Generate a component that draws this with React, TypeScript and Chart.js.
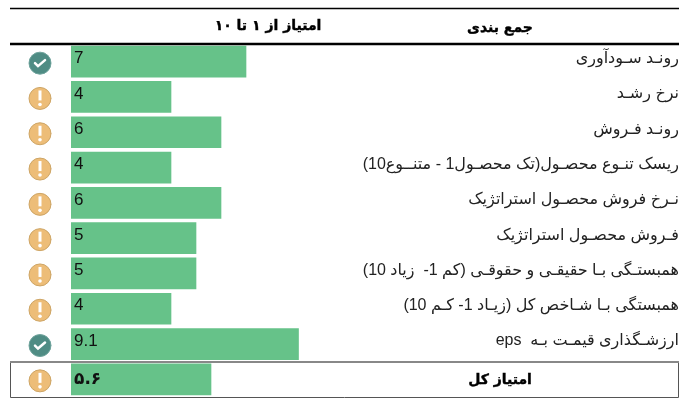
import React, { useEffect, useRef } from "react";
import { Chart, registerables } from "chart.js";

Chart.register(...registerables);

const categories = [
  "رونـد سـودآوری",
  "نرخ رشـد",
  "رونـد فـروش",
  "ریسک تنـوع محصـول(تک محصـول1 - متنــوع10)",
  "نـرخ فروش محصـول استراتژیک",
  "فـروش محصـول استراتژیک",
  "همبستـگی بـا حقیقـی و حقوقـی (کم 1-  زیاد 10)",
  "همبستگی بـا شـاخص کل (زیـاد 1- کـم 10)",
  "ارزشـگذاری قیمـت بـه  eps",
  "امتیاز کل",
];
const scores = [7, 4, 6, 4, 6, 5, 5, 4, 9.1, 5.6];
const scoreLabels = ["7", "4", "6", "4", "6", "5", "5", "4", "9.1", "۵.۶"];
const statuses = ["ok", "warn", "warn", "warn", "warn", "warn", "warn", "warn", "ok", "warn"];
const headerScore = "امتیاز از ۱ تا ۱۰";
const headerCategory = "جمع بندی";

const BASE_FONT = '"Liberation Sans", "DejaVu Sans", sans-serif';
const BAR_COLOR = "#66C289";

const overlay = {
  id: "tableOverlay",
  afterDatasetsDraw(chart: any) {
    const { ctx, scales } = chart;
    const xs = scales.x;
    const ys = scales.y;
    const last = categories.length - 1;
    ctx.save();

    // rules
    ctx.strokeStyle = "#000";
    ctx.lineWidth = 1.5;
    ctx.beginPath();
    ctx.moveTo(10, 8.5);
    ctx.lineTo(679, 8.5);
    ctx.stroke();
    ctx.lineWidth = 2.5;
    ctx.beginPath();
    ctx.moveTo(10, 44);
    ctx.lineTo(679, 44);
    ctx.stroke();

    // total row box
    ctx.strokeStyle = "#555";
    ctx.lineWidth = 1;
    ctx.beginPath();
    ctx.moveTo(10.5, 362);
    ctx.lineTo(10.5, 397.5);
    ctx.lineTo(678.5, 397.5);
    ctx.lineTo(678.5, 362);
    ctx.stroke();
    ctx.strokeStyle = "#888";
    ctx.lineWidth = 2;
    ctx.beginPath();
    ctx.moveTo(10, 362);
    ctx.lineTo(679, 362);
    ctx.stroke();

    // headers
    ctx.fillStyle = "#000";
    ctx.strokeStyle = "#000";
    ctx.lineWidth = 0.4;
    ctx.textAlign = "center";
    ctx.textBaseline = "middle";
    ctx.font = 'bold 14px "DejaVu Sans", sans-serif';
    const bold: [string, number, number][] = [
      [headerScore, 268, 26],
      [headerCategory, 500, 28],
      [categories[last], 500, ys.getPixelForValue(last) + 1],
    ];
    bold.forEach(([t, x, y]) => {
      ctx.fillText(t, x, y);
      ctx.strokeText(t, x, y);
    });

    scores.forEach((_v, i) => {
      const y = ys.getPixelForValue(i);
      // value text
      ctx.fillStyle = "#111";
      ctx.textAlign = "left";
      ctx.textBaseline = "middle";
      ctx.font = i === last ? 'bold 17px "DejaVu Sans", sans-serif' : `17px ${BASE_FONT}`;
      ctx.fillText(scoreLabels[i], xs.getPixelForValue(0) + 3, i === last ? y : y - 3);

      // status icon
      const cx = 40;
      const cy = y + 1.5;
      const ok = statuses[i] === "ok";
      ctx.beginPath();
      ctx.arc(cx, cy, 11, 0, Math.PI * 2);
      ctx.fillStyle = ok ? "#4F8C84" : "#EDBD78";
      ctx.fill();
      ctx.lineWidth = 1;
      ctx.strokeStyle = ok ? "#6FA39C" : "#CDA566";
      ctx.stroke();
      ctx.strokeStyle = "#fff";
      ctx.fillStyle = "#fff";
      if (ok) {
        ctx.lineWidth = 2.5;
        ctx.lineCap = "round";
        ctx.beginPath();
        ctx.moveTo(cx - 5, cy);
        ctx.lineTo(cx - 2, cy + 3);
        ctx.lineTo(cx + 5, cy - 3);
        ctx.stroke();
      } else {
        ctx.fillRect(cx - 1.5, cy - 8, 3, 10);
        ctx.beginPath();
        ctx.arc(cx, cy + 6, 1.8, 0, Math.PI * 2);
        ctx.fill();
      }
    });
    ctx.restore();
  },
};

export default function App() {
  const ref = useRef<HTMLCanvasElement>(null);
  useEffect(() => {
    const chart = new Chart(ref.current as HTMLCanvasElement, {
      type: "bar",
      data: {
        labels: categories,
        datasets: [
          {
            data: scores,
            backgroundColor: BAR_COLOR,
            borderWidth: 0,
            barThickness: 31,
          },
        ],
      },
      options: {
        indexAxis: "y",
        responsive: false,
        animation: false,
        layout: { padding: { left: 71, right: 21, top: 44, bottom: 3 } },
        plugins: { legend: { display: false }, tooltip: { enabled: false } },
        scales: {
          x: { display: false, min: 0, max: 10 },
          y: {
            position: "right",
            grid: { display: false },
            border: { display: false },
            afterFit(scale: any) {
              scale.width = 358;
              scale.paddingTop = 0;
              scale.paddingBottom = 0;
            },
            ticks: {
              autoSkip: false,
              crossAlign: "far",
              color: "#222",
              labelOffset: -3,
              font: { family: BASE_FONT, size: 16 },
              callback: (_v: any, i: number) => (i === categories.length - 1 ? "" : categories[i]),
            },
          },
        },
      },
      plugins: [overlay],
    } as any);
    return () => chart.destroy();
  }, []);
  return (
    <canvas
      ref={ref}
      width={700}
      height={400}
      dir="rtl"
      style={{ position: "fixed", left: 0, top: 0, width: 700, height: 400, background: "#fff", direction: "rtl" }}
    />
  );
}
